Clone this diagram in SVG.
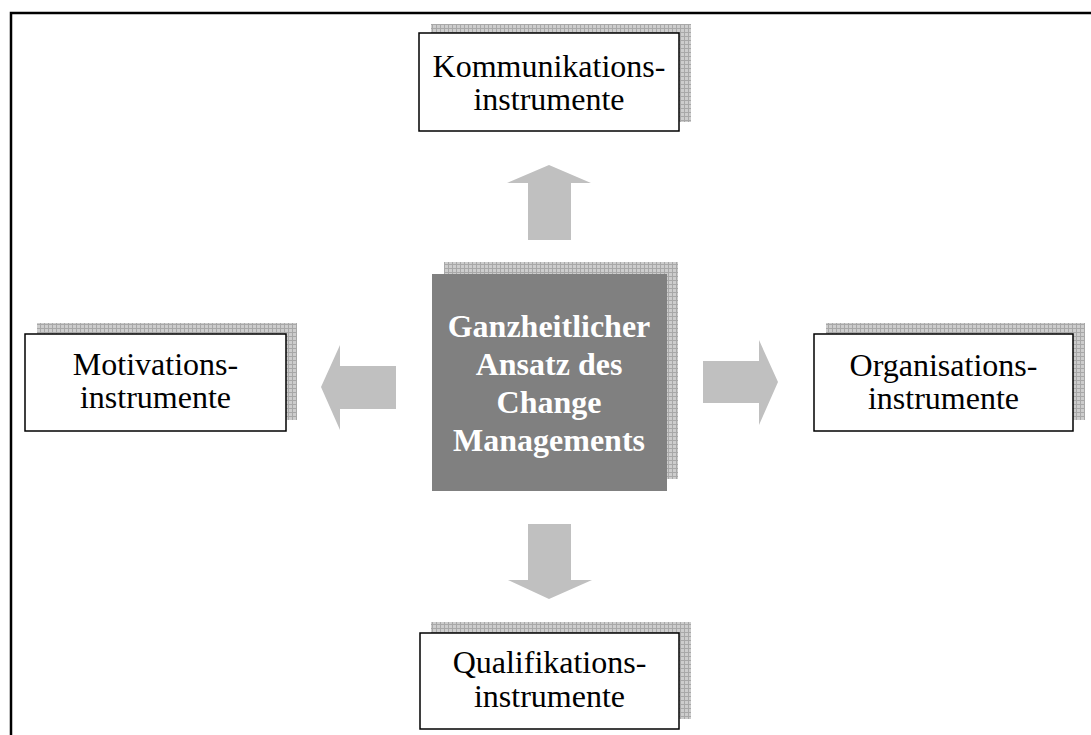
<svg xmlns="http://www.w3.org/2000/svg" width="1091" height="735" viewBox="0 0 1091 735">
<defs>
<pattern id="grid" width="4" height="4" patternUnits="userSpaceOnUse">
<rect width="4" height="4" fill="#cdcdcd"/>
<path d="M0 0.5H4M0.5 0V4" stroke="#a8a8a8" stroke-width="1"/>
</pattern>
<style>
.shadow{fill:url(#grid);}
.box{fill:#ffffff;stroke:#000000;stroke-width:1.5;}
.lbl{font-family:"Liberation Serif","Times New Roman",serif;font-size:32px;fill:#000000;text-anchor:middle;}
.ctr{font-family:"Liberation Serif","Times New Roman",serif;font-size:32px;font-weight:bold;fill:#ffffff;text-anchor:middle;}
.arrow{fill:#c0c0c0;}
</style>
</defs>
<rect width="1091" height="735" fill="#ffffff"/>
<g id="frame">
<path d="M11 735V13H1091" fill="none" stroke="#000000" stroke-width="2.5"/>
</g>
<g id="connectors">
<polygon class="arrow" points="528,240 571,240 571,183 591,183 549,165 507,183 528,183"/>
<polygon class="arrow" points="528,524 571,524 571,580 592,580 549,599 508,580 528,580"/>
<polygon class="arrow" points="396,366 396,409 340,409 340,430 321,387 340,345 340,366"/>
<polygon class="arrow" points="703,361 703,403 759,403 759,425 778,382 759,340 759,361"/>
</g>
<g id="center">
<rect class="shadow" x="444" y="262" width="234" height="217"/>
<rect x="432" y="274" width="235" height="217" fill="#808080"/>
<text class="ctr" x="549" y="337">Ganzheitlicher</text>
<text class="ctr" x="549" y="375">Ansatz des</text>
<text class="ctr" x="549" y="413">Change</text>
<text class="ctr" x="549" y="451">Managements</text>
</g>
<g id="kommunikation">
<rect class="shadow" x="431" y="24" width="260" height="98"/>
<rect class="box" x="419" y="33" width="260" height="98"/>
<text class="lbl" x="549" y="77">Kommunikations-</text>
<text class="lbl" x="549" y="110">instrumente</text>
</g>
<g id="motivation">
<rect class="shadow" x="37" y="323" width="260" height="97"/>
<rect class="box" x="25" y="334" width="261" height="97"/>
<text class="lbl" x="155.5" y="375">Motivations-</text>
<text class="lbl" x="155.5" y="408">instrumente</text>
</g>
<g id="organisation">
<rect class="shadow" x="826" y="323" width="259" height="97"/>
<rect class="box" x="814" y="334" width="259" height="97"/>
<text class="lbl" x="943.5" y="376">Organisations-</text>
<text class="lbl" x="943.5" y="409">instrumente</text>
</g>
<g id="qualifikation">
<rect class="shadow" x="431" y="622" width="260" height="97"/>
<rect class="box" x="420" y="633" width="259" height="96"/>
<text class="lbl" x="549.5" y="673">Qualifikations-</text>
<text class="lbl" x="549.5" y="707">instrumente</text>
</g>
</svg>
